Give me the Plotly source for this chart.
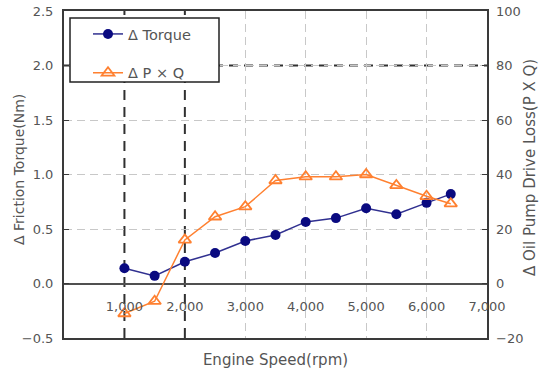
import plotly.graph_objects as go

# ---- data ----
rpm_torque = [1000, 1500, 2000, 2500, 3000, 3500, 4000, 4500, 5000, 5500, 6000, 6400]
delta_torque = [0.14, 0.07, 0.20, 0.28, 0.39, 0.445, 0.565, 0.60, 0.69, 0.635, 0.74, 0.82]
rpm_pq = [1000, 1500, 2000, 2500, 3000, 3500, 4000, 4500, 5000, 5500, 6000, 6400]
delta_pq = [-11.0, -6.5, 16.0, 24.5, 28.2, 37.8, 39.2, 39.2, 40.0, 36.0, 32.0, 29.3]

x_ticks = [1000, 2000, 3000, 4000, 5000, 6000, 7000]
x_tick_labels = ["1,000", "2,000", "3,000", "4,000", "5,000", "6,000", "7,000"]
x_light_grid = [3000, 4000, 5000, 6000, 7000]
y_ticks = [-0.5, 0.0, 0.5, 1.0, 1.5, 2.0, 2.5]
y2_ticks = [-20, 0, 20, 40, 60, 80, 100]
highlight_x = [1000, 2000]
highlight_y = [2.0]

FONT = "DejaVu Sans, Noto Sans, sans-serif"
TXT = "#555555"
FRAME = "#3a3a3a"

W, H = 551, 369
L, R, T, B = 64, 64, 11, 31
PW, PH = W - L - R, H - T - B
BOTTOM = H - B


def px(xp):
    return (xp - L) / PW


def py(yp):
    return (BOTTOM - yp) / PH


fig = go.Figure()

fig.add_trace(go.Scatter(
    x=rpm_torque, y=delta_torque, name="Δ Torque", mode="lines+markers",
    line=dict(color="#303090", width=1.5),
    marker=dict(symbol="circle", size=10, color="#0a0a80"),
    legendgroup="a",
))
fig.add_trace(go.Scatter(
    x=rpm_pq, y=delta_pq, name="Δ P × Q", mode="lines+markers",
    xaxis="x2", yaxis="y2",
    line=dict(color="#ff8030", width=1.5),
    marker=dict(symbol="triangle-up-open", size=11, color="#ff8030",
                line=dict(width=1.8, color="#ff8030")),
    legendgroup="b",
))

shapes = []
for xv in highlight_x:
    shapes.append(dict(type="line", xref="x", yref="y domain", x0=xv, x1=xv, y0=0, y1=1,
                       line=dict(color="#303030", width=2, dash="10px,7px"), layer="below"))
for yv in highlight_y:
    shapes.append(dict(type="line", xref="x domain", yref="y", x0=0, x1=1, y0=yv, y1=yv,
                       line=dict(color="#303030", width=2, dash="9px,6px"), layer="below"))
# legend box
shapes.append(dict(type="rect", xref="paper", yref="paper",
                   x0=px(70), x1=px(219), y0=py(82), y1=py(18),
                   fillcolor="white", line=dict(color="#222222", width=1.5), layer="above"))

fig.update_layout(
    width=W, height=H,
    margin=dict(l=L, r=R, t=T, b=B),
    paper_bgcolor="white", plot_bgcolor="white",
    font=dict(family=FONT, size=13, color=TXT),
    showlegend=True,
    legend=dict(x=px(88), y=py(18), xanchor="left", yanchor="top",
                bgcolor="rgba(0,0,0,0)", borderwidth=0,
                font=dict(size=14.5, color=TXT, family=FONT),
                traceorder="grouped", tracegroupgap=17),
    xaxis=dict(range=[0, 7000], tickvals=x_light_grid, showticklabels=False,
               showgrid=True, gridcolor="#c8c8c8", griddash="8px,5px", gridwidth=1,
               showline=True, linecolor=FRAME, linewidth=2, mirror=True,
               ticks="", zeroline=False, automargin=False),
    xaxis2=dict(range=[0, 7000], overlaying="x", anchor="free",
                position=py(297), automargin=False,
                tickvals=x_ticks, ticktext=x_tick_labels, showgrid=False,
                showline=False, ticks="", zeroline=False,
                tickfont=dict(size=13, color=TXT),
                title=dict(text="Engine Speed(rpm)", font=dict(size=15, color=TXT),
                           standoff=53)),
    yaxis=dict(range=[-0.5, 2.5], tickvals=y_ticks, tickformat=".1f",
               showgrid=True, gridcolor="#c8c8c8", griddash="8px,5px", gridwidth=1,
               zeroline=True, zerolinecolor="#505050", zerolinewidth=2,
               showline=True, linecolor=FRAME, linewidth=2, mirror=True,
               ticks="inside", ticklen=5, tickcolor=FRAME, ticklabelstandoff=6,
               ticklabeloverflow="allow",
               tickfont=dict(size=13, color=TXT), automargin=False),
    yaxis2=dict(range=[-20, 100], tickvals=y2_ticks, overlaying="y", side="right",
                showgrid=False, zeroline=False, showline=False,
                ticks="inside", ticklen=5, tickcolor=FRAME, ticklabelstandoff=8,
                ticklabeloverflow="allow",
                tickfont=dict(size=13, color=TXT), automargin=False),
    shapes=shapes,
    annotations=[
        dict(text="Δ Friction Torque(Nm)", xref="paper", yref="paper",
             x=px(9), y=py(170), textangle=-90,
             showarrow=False, font=dict(size=14, color=TXT)),
        dict(text="Δ Oil Pump Drive Loss(P X Q)", xref="paper", yref="paper",
             x=px(541), y=py(168), textangle=-90,
             showarrow=False, font=dict(size=15, color=TXT)),
    ],
)

fig.write_html("out.html")
